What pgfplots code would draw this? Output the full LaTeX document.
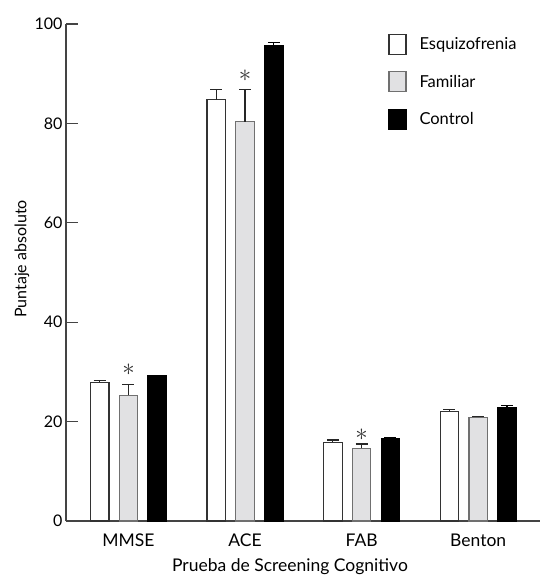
\documentclass[border=0pt]{standalone}
\usepackage{pgfplots}
\usepackage{pgfplotstable}
\pgfplotsset{compat=1.18}
\usepackage{fontspec}
\setmainfont{Lato}
\definecolor{axgray}{HTML}{444444}
\definecolor{barfill}{HTML}{E1E1E3}
\definecolor{grayedge}{HTML}{707070}
\definecolor{whiteedge}{HTML}{333333}
\newcommand{\lf}{\fontsize{17.5bp}{20bp}\selectfont}
\newcommand{\gf}{\fontsize{16.5bp}{19bp}\selectfont}
\newcommand{\yf}{\fontsize{16bp}{19bp}\selectfont}
\pgfplotsset{sqlegend/.style={legend image code/.code={\draw[##1] (0bp,-10bp) rectangle (17bp,10bp); \path (28bp,0bp);}}}
% x: group index; w/we: Esquizofrenia mean/error; g/ge: Familiar; b/be: Control
\pgfplotstableread{
x  w     we   g     ge   b     be
0  27.9  0.3  25.3  2.1  29.2  0.15
1  84.8  2.0  80.3  6.5  95.6  0.6
2  15.8  0.5  14.6  0.9  16.6  0.2
3  22.1  0.4  20.9  0.2  22.9  0.3
}\datatable
\pgfplotstableread{
x  s
0  30.4
1  89.6
2  17.3
}\startable
\begin{document}
\begin{tikzpicture}
\begin{axis}[
  name=ax,
  scale only axis,
  width=474bp, height=497bp,
  xmin=-0.536, xmax=3.53,
  ymin=0, ymax=100,
  axis x line=bottom, axis y line=left,
  axis line style={-, color=axgray, line width=1.6bp},
  xtick={0,1,2,3},
  xticklabels={\raisebox{3bp}{MMSE},\raisebox{3bp}{ACE},FAB,Benton},
  x tick style={draw=none},
  ytick={0,20,40,60,80,100},
  y tick style={color=axgray, line width=1.2bp},
  tick align=inside,
  major tick length=12bp,
  /pgf/number format/assume math mode=true,
  yticklabel style={font=\yf, color=black},
  xticklabel style={font=\lf, color=black, yshift=-9bp},
  every axis x label/.style={at={(rel axis cs:0.4726,-0.1026)}, anchor=base, font=\lf},
  every axis y label/.style={at={(rel axis cs:-0.0928,0.527)}, anchor=center, rotate=90, font=\yf},
  xlabel={Prueba de Screening Cognitivo},
  ylabel={Puntaje absoluto},
  legend style={draw=none, fill=none, at={(rel axis cs:0.6735,0.985)}, anchor=north west, font=\gf, row sep=16.5bp, cells={anchor=west}},
  legend cell align=left,
  clip=false,
]
\addplot[ybar, bar width=0.159, bar shift=-0.247, fill=white, draw=whiteedge, line width=1.1bp, sqlegend]
  table[x=x, y=w] {\datatable};
\addlegendentry{Esquizofrenia}
\addplot[ybar, bar width=0.159, bar shift=0, fill=barfill, draw=grayedge, line width=1.1bp, sqlegend]
  table[x=x, y=g] {\datatable};
\addlegendentry{Familiar}
\addplot[ybar, bar width=0.159, bar shift=0.247, fill=black, draw=black, line width=1.1bp, sqlegend]
  table[x=x, y=b] {\datatable};
\addlegendentry{Control}
% error bars (upward only)
\pgfplotsset{ebar/.style={forget plot, draw=none, no markers,
  error bars/.cd, y dir=plus, y explicit,
  error bar style={draw=#1, line width=1.2bp},
  error mark=-, error mark options={draw=#1, line width=1.2bp, mark size=6bp, rotate=90}}}
\addplot[ebar=black!85] table[x expr=\thisrow{x}-0.247, y=w, y error=we] {\datatable};
\addplot[ebar=black!85] table[x=x, y=g, y error=ge] {\datatable};
\addplot[ebar=black] table[x expr=\thisrow{x}+0.247, y=b, y error=be] {\datatable};
% significance asterisks above the Familiar bars
\addplot[forget plot, draw=none, no markers, nodes near coords={$\ast$},
  every node near coord/.style={anchor=center, font=\fontsize{24bp}{24bp}\selectfont, color=black!80}]
  table[x=x, y=s] {\startable};
\end{axis}
\pgfresetboundingbox
\path ([shift={(-66bp,-60bp)}]ax.south west) rectangle ([shift={(0bp,24bp)}]ax.north east);
\end{tikzpicture}
\end{document}
